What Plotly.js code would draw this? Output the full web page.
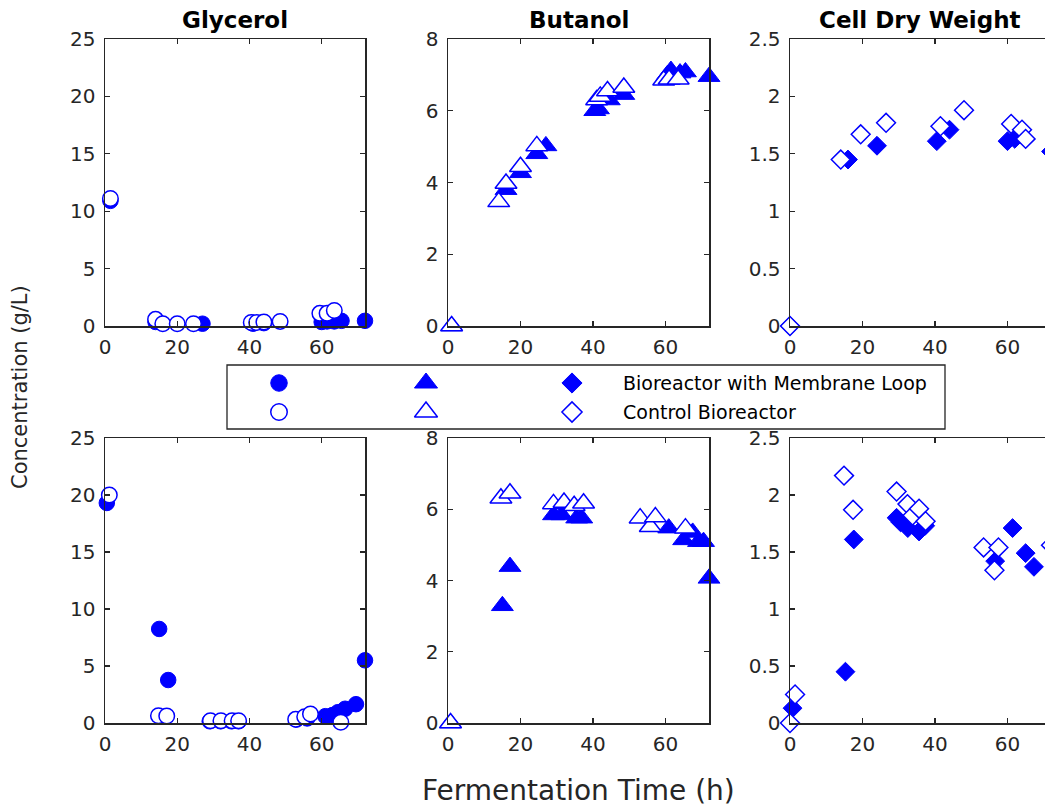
<!DOCTYPE html>
<html>
<head>
<meta charset="utf-8">
<script src="https://cdn.plot.ly/plotly-3.0.1.min.js"></script>
<style>
html, body { margin: 0; padding: 0; overflow: hidden; background: #fff; }
#chart { width: 1060px; height: 808px; }
</style>
</head>
<body>
<div id="chart"></div>
<script>
// ---------- data (time in h, concentration in g/L) ----------
const panelTitles = ['Glycerol', 'Butanol', 'Cell Dry Weight'];
const seriesNames = ['Bioreactor with Membrane Loop', 'Control Bioreactor'];
const xTicks = [0, 20, 40, 60];

// Top row
const gly1MemT  = [1.5, 14, 27, 41, 44, 60, 61.5, 63.5, 65.5, 72];
const gly1MemY  = [10.9, 0.35, 0.2, 0.2, 0.25, 0.35, 0.4, 0.4, 0.45, 0.45];
const gly1CtrlT = [1.5, 14, 16, 20, 24.5, 40.5, 42, 44, 48.5, 59.5, 61.5, 63.5];
const gly1CtrlY = [11.1, 0.58, 0.2, 0.2, 0.2, 0.3, 0.3, 0.35, 0.4, 1.1, 1.1, 1.35];

const but1MemT  = [1, 16, 20, 24.5, 27, 40.5, 41.5, 44.5, 48.5, 60.5, 61.5, 64, 65.5, 72];
const but1MemY  = [0, 3.8, 4.27, 4.8, 5.02, 6.0, 6.05, 6.3, 6.45, 7.0, 7.12, 7.05, 7.08, 6.95];
const but1CtrlT = [1, 14, 16, 20, 24.5, 41, 42, 44, 48.5, 59.5, 61, 63.5];
const but1CtrlY = [0, 3.46, 3.97, 4.44, 5.02, 6.3, 6.4, 6.55, 6.65, 6.85, 6.88, 6.88];

const cdw1MemT  = [0, 16, 24, 40.5, 44, 60, 62, 72];
const cdw1MemY  = [0, 1.45, 1.57, 1.61, 1.71, 1.61, 1.63, 1.52];
const cdw1CtrlT = [0, 14, 19.5, 26.5, 41.5, 48, 61, 64, 65];
const cdw1CtrlY = [0, 1.45, 1.67, 1.77, 1.74, 1.88, 1.76, 1.71, 1.63];

// Bottom row
const gly2MemT  = [0.5, 15, 17.5, 29, 32, 35, 37, 53, 56, 61, 63, 64.5, 66.5, 69.5, 72];
const gly2MemY  = [19.3, 8.25, 3.77, 0.15, 0.15, 0.15, 0.15, 0.3, 0.4, 0.6, 0.7, 0.95, 1.25, 1.65, 5.5];
const gly2CtrlT = [1.2, 14.8, 17.1, 29.2, 32.1, 35.2, 37, 52.8, 55.3, 56.9, 65.3];
const gly2CtrlY = [20.0, 0.64, 0.61, 0.2, 0.2, 0.2, 0.2, 0.32, 0.55, 0.79, 0.06];

const but2MemT  = [0.7, 15, 17.1, 29.1, 31.4, 35.5, 36.9, 60.9, 65, 67.5, 69.1, 70.5, 72];
const but2MemY  = [0, 3.29, 4.39, 5.84, 5.84, 5.75, 5.75, 5.47, 5.14, 5.35, 5.09, 5.09, 4.06];
const but2CtrlT = [0.7, 14.6, 17.1, 29.1, 32, 34.8, 37.4, 53, 55.8, 57.2, 65.5];
const but2CtrlY = [0, 6.31, 6.45, 6.15, 6.19, 6.1, 6.17, 5.75, 5.51, 5.78, 5.47];

const cdw2MemT  = [0.7, 15.3, 17.6, 29.4, 30.5, 32.5, 35.6, 37.3, 56.6, 61.4, 65, 67.3];
const cdw2MemY  = [0.13, 0.45, 1.61, 1.8, 1.76, 1.71, 1.68, 1.73, 1.42, 1.71, 1.49, 1.37];
const cdw2CtrlT = [0, 1.4, 14.9, 17.4, 29.4, 32.4, 33.8, 35.6, 37.4, 53.4, 56.4, 57.5, 72];
const cdw2CtrlY = [0, 0.25, 2.17, 1.87, 2.03, 1.92, 1.82, 1.88, 1.77, 1.54, 1.34, 1.54, 1.56];

// ---------- layout helpers ----------
const W = 1060, H = 808;
const BLUE = '#0000ff', AX = '#262626';
const FONT = 'DejaVu Sans';
const px = v => v / W;
const py = v => 1 - v / H;

const colX = [[105, 365], [448, 709], [790, 1051]];
const rowY = [[39, 326], [438, 723]];

const SYM = ['circle', 'triangle-up', 'diamond'];
const SIZE = [15.5, 19, 14.5];

function mk(t, y, axIdx, col, filled) {
  return {
    type: 'scatter', mode: 'markers', x: t, y: y,
    xaxis: 'x' + (axIdx === 1 ? '' : axIdx), yaxis: 'y' + (axIdx === 1 ? '' : axIdx),
    cliponaxis: false, hoverinfo: 'skip',
    marker: {
      symbol: SYM[col], size: SIZE[col],
      color: filled ? BLUE : '#ffffff',
      line: { color: BLUE, width: filled ? 1 : 1.5 }
    }
  };
}

const traces = [
  mk(gly1MemT, gly1MemY, 1, 0, true), mk(gly1CtrlT, gly1CtrlY, 1, 0, false),
  mk(but1MemT, but1MemY, 2, 1, true), mk(but1CtrlT, but1CtrlY, 2, 1, false),
  mk(cdw1MemT, cdw1MemY, 3, 2, true), mk(cdw1CtrlT, cdw1CtrlY, 3, 2, false),
  mk(gly2MemT, gly2MemY, 4, 0, true), mk(gly2CtrlT, gly2CtrlY, 4, 0, false),
  mk(but2MemT, but2MemY, 5, 1, true), mk(but2CtrlT, but2CtrlY, 5, 1, false),
  mk(cdw2MemT, cdw2MemY, 6, 2, true), mk(cdw2CtrlT, cdw2CtrlY, 6, 2, false)
];

// legend key markers (on a pixel-space overlay axis)
const legX = [279, 426, 572];
const legY = [383, 412];
for (let c = 0; c < 3; c++) {
  for (let r = 0; r < 2; r++) {
    traces.push({
      type: 'scatter', mode: 'markers', x: [legX[c]], y: [legY[r]],
      xaxis: 'x7', yaxis: 'y7', cliponaxis: false, hoverinfo: 'skip',
      marker: {
        symbol: SYM[c], size: SIZE[c] + 1,
        color: r === 0 ? BLUE : '#ffffff',
        line: { color: BLUE, width: r === 0 ? 1 : 1.5 }
      }
    });
  }
}

function axis(domPx, range, isY, extra) {
  const d = isY ? [py(domPx[1]), py(domPx[0])] : [px(domPx[0]), px(domPx[1])];
  return Object.assign({
    domain: d, range: range, showline: true, linecolor: AX, linewidth: 1.5,
    mirror: 'ticks', ticks: 'inside', ticklen: 5, tickwidth: 1.2, tickcolor: AX,
    showgrid: false, zeroline: false, fixedrange: true,
    tickfont: { family: FONT, size: 20, color: AX }
  }, extra || {});
}

const yRanges = [[0, 25], [0, 8], [0, 2.5]];
const yDticks = [5, 2, 0.5];

const layout = {
  width: W, height: H,
  margin: { l: 0, r: 0, t: 0, b: 0 },
  paper_bgcolor: '#ffffff', plot_bgcolor: 'rgba(0,0,0,0)',
  showlegend: false,
  shapes: [{
    type: 'rect', xref: 'paper', yref: 'paper', layer: 'below',
    x0: px(227), x1: px(945), y0: py(429), y1: py(365),
    line: { color: AX, width: 1.3 }, fillcolor: '#ffffff'
  }],
  annotations: []
};

for (let r = 0; r < 2; r++) {
  for (let c = 0; c < 3; c++) {
    const i = r * 3 + c + 1;
    const sfx = i === 1 ? '' : i;
    layout['xaxis' + sfx] = axis(colX[c], [0, 72], false,
      { anchor: 'y' + sfx, tickvals: xTicks, ticktext: xTicks.map(String), ticklabelstandoff: 2 });
    layout['yaxis' + sfx] = axis(rowY[r], yRanges[c], true,
      { anchor: 'x' + sfx, dtick: yDticks[c], tick0: 0, ticklabelstandoff: 4 });
  }
}
layout.xaxis7 = { domain: [0, 1], range: [0, W], visible: false, fixedrange: true, anchor: 'y7' };
layout.yaxis7 = { domain: [0, 1], range: [H, 0], visible: false, fixedrange: true, anchor: 'x7' };

// panel titles
for (let c = 0; c < 3; c++) {
  layout.annotations.push({
    text: panelTitles[c], xref: 'paper', yref: 'paper',
    x: px((colX[c][0] + colX[c][1]) / 2), y: py(20), xanchor: 'center', yanchor: 'middle',
    showarrow: false, font: { family: FONT, size: 23, weight: 'bold', color: '#000000' }
  });
}
// legend texts
for (let r = 0; r < 2; r++) {
  layout.annotations.push({
    text: seriesNames[r], xref: 'paper', yref: 'paper',
    x: px(621), y: py(legY[r]), xanchor: 'left', yanchor: 'middle',
    showarrow: false, font: { family: FONT, size: 19, color: '#000000' }
  });
}
// axis titles
layout.annotations.push({
  text: 'Fermentation Time (h)', xref: 'paper', yref: 'paper',
  x: px(578), y: py(790), xanchor: 'center', yanchor: 'middle',
  showarrow: false, font: { family: FONT, size: 28, color: AX }
});
layout.annotations.push({
  text: 'Concentration (g/L)', xref: 'paper', yref: 'paper', textangle: -90,
  x: px(20), y: py(387), xanchor: 'center', yanchor: 'middle',
  showarrow: false, font: { family: FONT, size: 21, color: AX }
});

Plotly.newPlot('chart', traces, layout, { staticPlot: true, displayModeBar: false });
</script>
</body>
</html>
